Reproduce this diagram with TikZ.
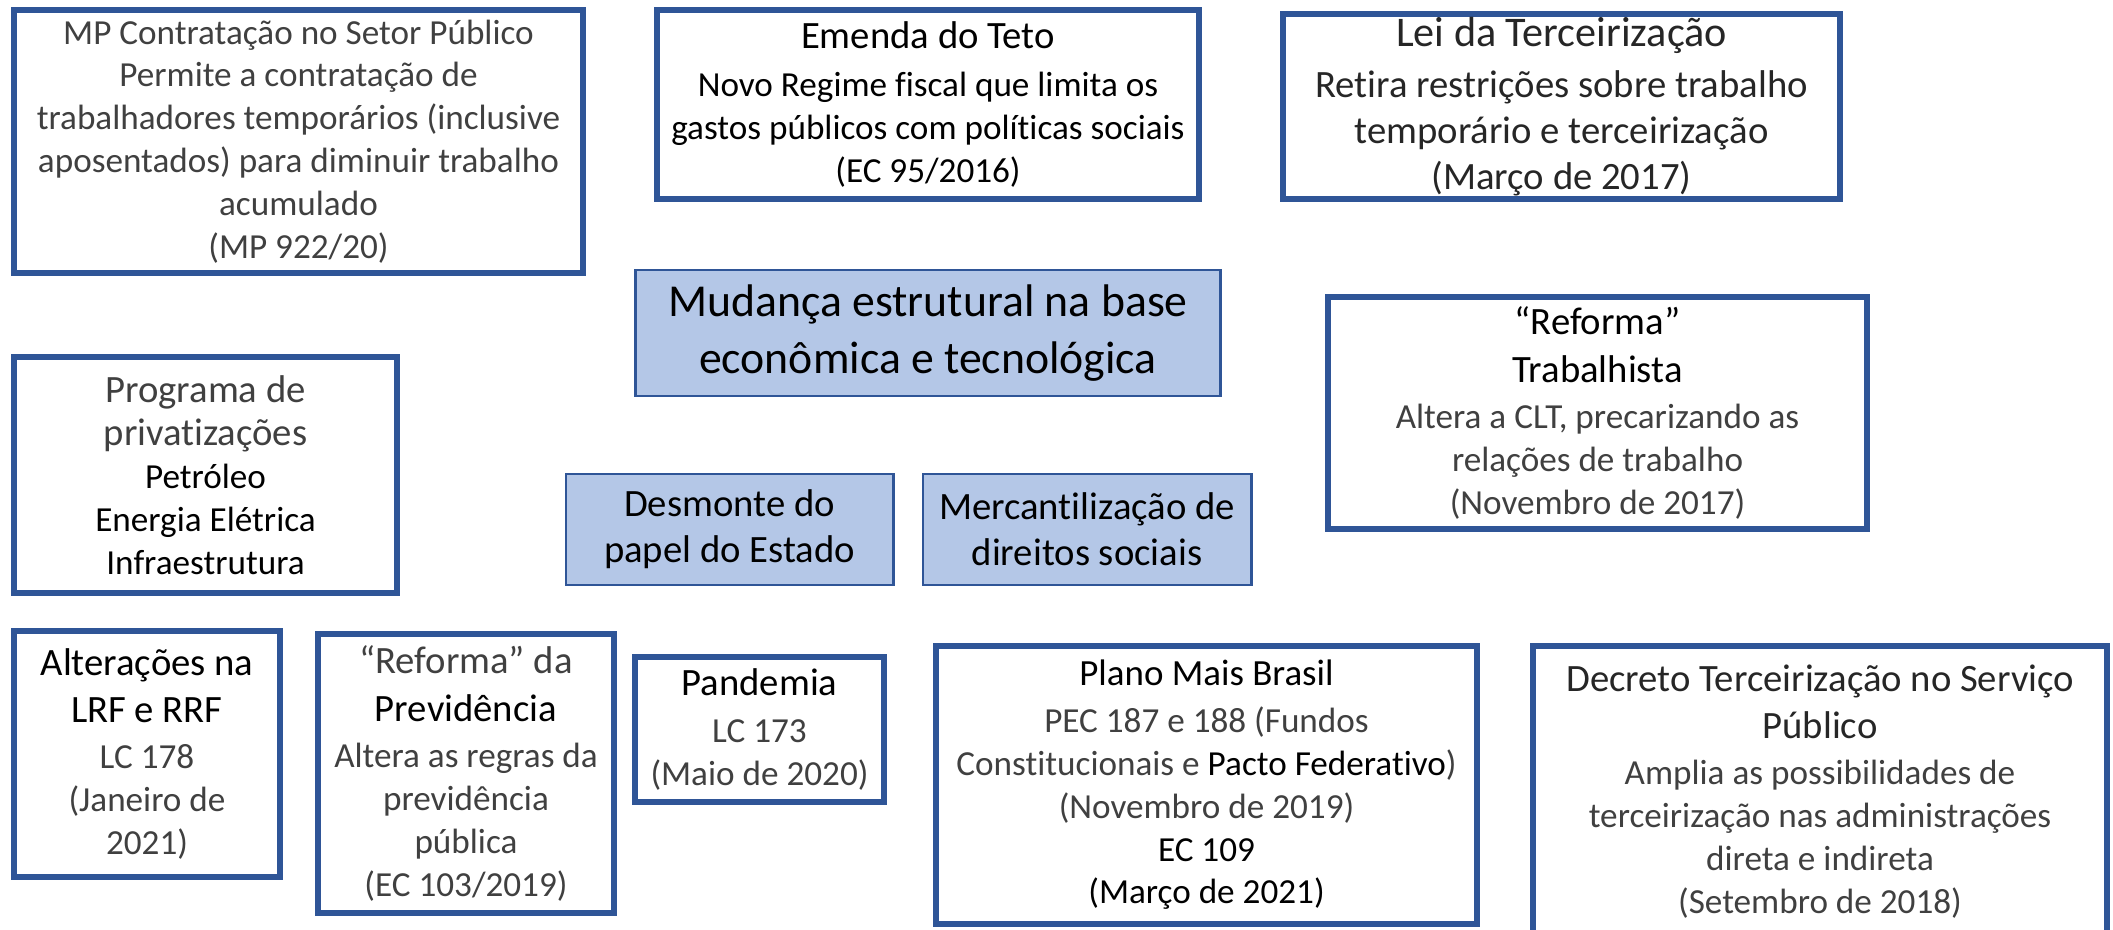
\documentclass[tikz,border=0pt]{standalone}
\usepackage{fontspec}
\setmainfont{Carlito}[Ligatures=NoCommon]
\definecolor{boxblue}{HTML}{2F5597}
\definecolor{boxfill}{HTML}{B4C7E7}
\definecolor{txtgray}{HTML}{404040}
\definecolor{txtdark}{HTML}{262626}
\newcommand{\boxtitle}[1]{{\fontsize{11}{12}\selectfont #1}}

\begin{document}
\begin{tikzpicture}[x=0.01cm,y=-0.01cm,
  plainbox/.style={draw=boxblue,line width=1.7pt,align=center,inner sep=0pt,text=txtgray,font=\fontsize{10}{12.2}\selectfont},
  shadedbox/.style={draw=boxblue,fill=boxfill,line width=0.8pt,align=center,inner sep=0pt,text=black}]
\clip (0,0) rectangle (2113,929);
\fill[white] (0,0) rectangle (2113,929);

\node[plainbox,minimum width=5.69cm,minimum height=2.63cm] (mp) at (298.5,141.5)
  {MP Contratação no Setor Público\\Permite a contratação de\\trabalhadores temporários (inclusive\\aposentados) para diminuir trabalho\\acumulado\\(MP 922/20)};
\node[plainbox,text=black,minimum width=5.42cm,minimum height=1.89cm] (teto) at (928,104.5)
  {\boxtitle{Emenda do Teto}\\[1.5pt]Novo Regime fiscal que limita os\\gastos públicos com políticas sociais\\(EC 95/2016)};
\node[plainbox,text=txtdark,font=\fontsize{11}{13}\selectfont,minimum width=5.57cm,minimum height=1.85cm] (lei) at (1561.5,106.5)
  {{\fontsize{12}{13}\selectfont Lei da Terceirização}\\[1.5pt]Retira restrições sobre trabalho\\temporário e terceirização\\(Março de 2017)};

\node[shadedbox,font=\fontsize{13}{16}\selectfont,minimum width=5.84cm,minimum height=1.26cm] (base) at (928,333)
  {Mudança estrutural na base\\econômica e tecnológica};
\node[plainbox,minimum width=5.39cm,minimum height=2.32cm] (trab) at (1597.5,413)
  {\boxtitle{\color{black}“Reforma”}\\[1.5pt]\boxtitle{\color{black}Trabalhista}\\[1pt]Altera a CLT, precarizando as\\relações de trabalho\\(Novembro de 2017)};
\node[plainbox,text=black,minimum width=3.83cm,minimum height=2.36cm] (priv) at (205.5,475)
  {\boxtitle{\color{txtgray}Programa de}\\\boxtitle{\color{txtgray}privatizações}\\Petróleo\\Energia Elétrica\\Infraestrutura};
\node[shadedbox,font=\fontsize{11}{13}\selectfont,minimum width=3.27cm,minimum height=1.11cm] (estado) at (729.5,529.5)
  {Desmonte do\\papel do Estado};
\node[shadedbox,font=\fontsize{11}{13}\selectfont,minimum width=3.28cm,minimum height=1.11cm] (direitos) at (1087,529.5)
  {Mercantilização de\\direitos sociais};

\node[plainbox,minimum width=2.66cm,minimum height=2.46cm] (lrf) at (147,754)
  {\boxtitle{\color{black}Alterações na}\\[1pt]\boxtitle{\color{black}LRF e RRF}\\[1pt]LC 178\\(Janeiro de\\2021)};
\node[plainbox,minimum width=2.96cm,minimum height=2.79cm] (prev) at (466,773.5)
  {\boxtitle{“Reforma” da}\\[1.5pt]\boxtitle{\color{black}Previdência}\\[1pt]Altera as regras da\\previdência\\pública\\(EC 103/2019)};
\node[plainbox,minimum width=2.49cm,minimum height=1.45cm] (pand) at (759.5,729.5)
  {\boxtitle{\color{black}Pandemia}\\[1pt]LC 173\\(Maio de 2020)};
\node[plainbox,minimum width=5.41cm,minimum height=2.78cm] (plano) at (1206.5,785)
  {{\fontsize{10.5}{12}\selectfont\color{black}Plano Mais Brasil}\\[1pt]PEC 187 e 188 (Fundos\\Constitucionais e {\color{black}Pacto Federativo})\\(Novembro de 2019)\\{\color{black}EC 109}\\{\color{black}(Março de 2021)}};
\node[plainbox,minimum width=5.74cm,minimum height=2.91cm] (decreto) at (1820,791.5)
  {\boxtitle{\color{txtdark}Decreto Terceirização no Serviço}\\[1pt]\boxtitle{\color{txtdark}Público}\\[1pt]Amplia as possibilidades de\\terceirização nas administrações\\direta e indireta\\(Setembro de 2018)};
\end{tikzpicture}
\end{document}
